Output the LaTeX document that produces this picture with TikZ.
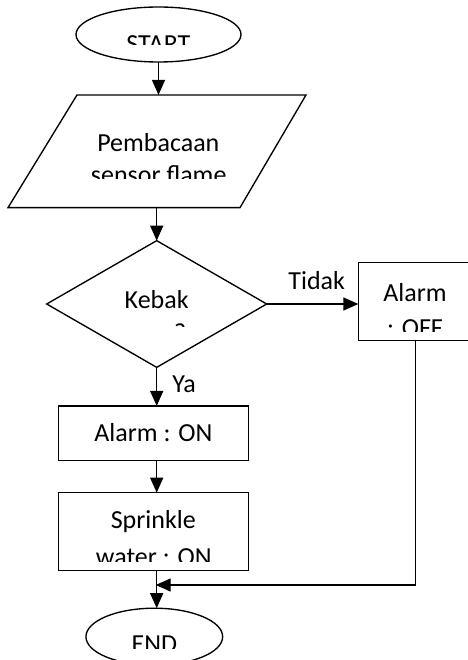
\documentclass[tikz,border=0pt]{standalone}
\usepackage{fontspec}
\setmainfont{Carlito}
\usetikzlibrary{shapes.geometric,arrows.meta}
\begin{document}
\begin{tikzpicture}[x=1pt,y=-1pt, line width=1.35pt,
  shp/.style={draw, inner sep=0pt, outer sep=0pt},
  txt/.style={anchor=base, inner sep=0pt, font=\fontsize{26}{33}\selectfont},
  arr/.style={-{Triangle[length=15pt,width=13pt]}}]
\useasboundingbox (0,0) rectangle (467,660);

% shapes
\node[shp, ellipse, minimum width=165pt, minimum height=55pt] (start) at (158.5,34.5) {};
\node[inner sep=0pt, outer sep=0pt, minimum width=298pt, minimum height=112.7pt] (par) at (157,151.3) {};
\draw ([xshift=69pt]par.north west) -- (par.north east)
      -- ([xshift=-66pt]par.south east) -- (par.south west) -- cycle;
\node[shp, diamond, minimum width=220pt, minimum height=126.7pt] (dia) at (156.7,304) {};
\node[shp, minimum width=113.7pt, minimum height=78pt] (off) at (415.2,301.7) {};
\node[shp, minimum width=190pt, minimum height=54.7pt] (on) at (153.7,433.3) {};
\node[shp, minimum width=190pt, minimum height=78pt] (spr) at (153.7,531.7) {};
\node[shp, ellipse, minimum width=136.7pt, minimum height=57pt] (endn) at (154.3,636.7) {};

% texts (clipped like the original text boxes)
\begin{scope}
  \clip (0,0) rectangle (467,44.8);
  \node[txt] (tstart) at (158.3,52.7) {START};
\end{scope}
\node[txt] (tpem) at (158.3,151.7) {Pembacaan};
\begin{scope}
  \clip (0,0) rectangle (467,179);
  \node[txt] (tsens) at (158.7,183.5) {sensor flame};
\end{scope}
\node[txt] (tkeb) at (156.7,308) {Kebak};
\begin{scope}
  \clip (0,0) rectangle (467,326);
  \node[txt] (taran) at (156.7,341) {aran?};
\end{scope}
\node[txt] (talarm) at (415,301.7) {Alarm};
\begin{scope}
  \clip (0,0) rectangle (467,331.7);
  \node[txt] (toff) at (415,336.7) {: OFF};
\end{scope}
\node[txt] (ton) at (153.3,441.7) {Alarm : ON};
\node[txt] (tspr) at (153.3,528.8) {Sprinkle};
\begin{scope}
  \clip (0,0) rectangle (467,561);
  \node[txt] (twat) at (153.8,565.5) {water : ON};
\end{scope}
\begin{scope}
  \clip (0,0) rectangle (467,648.3);
  \node[txt] (tend) at (154.3,652.7) {END};
\end{scope}
\node[txt] (ttidak) at (316.7,289.3) {Tidak};
\node[txt] (tya) at (184,392.7) {Ya};

% connectors
\coordinate (join) at (155.7,585);
\draw[arr] (start.south) -- (start.south |- par.north);
\draw[arr] (dia.north |- par.south) -- (dia.north);
\draw[arr] (dia.east) -- (dia.east -| off.west);
\draw[arr] (dia.south) -- (dia.south |- on.north);
\draw[arr] (dia.south |- on.south) -- (dia.south |- spr.north);
\draw[arr] (dia.south |- spr.south) -- (dia.south |- endn.north);
\draw[arr] (off.south) |- (join);
\end{tikzpicture}
\end{document}
